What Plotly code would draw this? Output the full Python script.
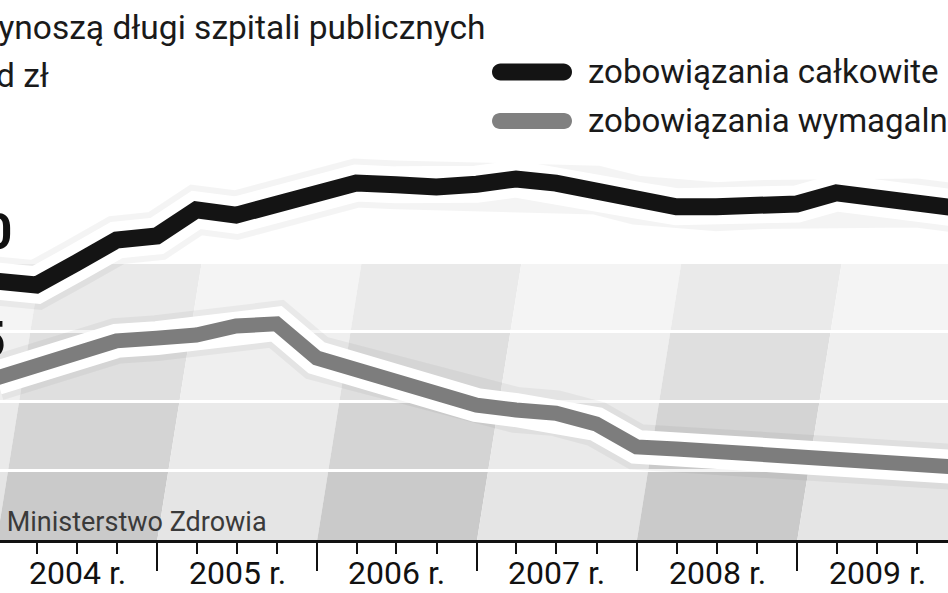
import plotly.graph_objects as go
import pandas as pd

# ---------------- data ----------------
quarter_ends = [
    "2003-12-31",
    "2004-03-31", "2004-06-30", "2004-09-30", "2004-12-31",
    "2005-03-31", "2005-06-30", "2005-09-30", "2005-12-31",
    "2006-03-31", "2006-06-30", "2006-09-30", "2006-12-31",
    "2007-03-31", "2007-06-30", "2007-09-30", "2007-12-31",
    "2008-03-31", "2008-06-30", "2008-09-30", "2008-12-31",
    "2009-03-31", "2009-06-30", "2009-09-30", "2009-12-31",
]
# zobowiązania całkowite (mld zł)
total_liabilities = [7.45, 7.34, 7.97, 8.63, 8.75, 9.50, 9.35, 9.67, 9.96,
                     10.27, 10.22, 10.16, 10.24, 10.39, 10.27, 10.07, 9.78,
                     9.59, 9.59, 9.65, 9.67, 9.99, 9.86, 9.70, 9.55]
# zobowiązania wymagalne (mld zł)
due_liabilities = [4.66, 5.01, 5.47, 5.73, 5.81, 5.90, 6.16, 6.22, 5.24,
                   4.89, 4.55, 4.29, 3.88, 3.74, 3.65, 3.34, 2.68,
                   2.62, 2.56, 2.45, 2.36, 2.39, 2.33, 2.27, 2.10]
label_years = [2004, 2005, 2006, 2007, 2008, 2009]
year_labels = ["2004 r.", "2005 r.", "2006 r.", "2007 r.", "2008 r.", "2009 r."]
band_years = [2003, 2004, 2005, 2006, 2007, 2008, 2009, 2010]
grid_levels = [0, 2, 4, 6, 8]

series_names = ["zobowiązania całkowite", "zobowiązania wymagalne"]
title_lines = ["Ile wynoszą długi szpitali publicznych", "w mld zł"]
source_text = "Źródło: Ministerstwo Zdrowia"
side_labels = ["10", "5"]

# ---------------- layout constants ----------------
W, H = 948, 593
PLOT_H = 540
Y_MAX = 15.54
FONT = "Roboto, Liberation Sans, sans-serif"

def px_x(p):
    return p / W

def px_y(p):
    return (PLOT_H - p) / PLOT_H

fig = go.Figure()

# line traces: soft shadow, white outline, colour
styles = [
    (due_liabilities, "#7d7d7d", 15, 34),
    (total_liabilities, "#141414", 17, 37),
]
for vals, col, w, ow in styles:
    fig.add_trace(go.Scatter(x=quarter_ends, y=vals, mode="lines",
                             line=dict(color="rgba(0,0,0,0.045)", width=ow + 12),
                             hoverinfo="skip", showlegend=False))
    fig.add_trace(go.Scatter(x=quarter_ends, y=vals, mode="lines",
                             line=dict(color="white", width=ow),
                             hoverinfo="skip", showlegend=False))
for (vals, col, w, ow), name in zip(styles, series_names[::-1]):
    fig.add_trace(go.Scatter(x=quarter_ends, y=vals, mode="lines", name=name,
                             line=dict(color=col, width=w),
                             showlegend=False))

# ---------------- background bands (slanted, blocky shading) ----------------
dark = ["#cacaca", "#d4d4d4", "#dfdfdf", "#eaeaea"]
light = ["#e5e5e5", "#eaeaea", "#efefef", "#f4f4f4"]
slant_days = 12.7  # per unit of y

def dstr(ts):
    return ts.strftime("%Y-%m-%d_%H:%M:%S")

shapes = []
for yr in band_years:
    s = pd.Timestamp(f"{yr}-01-01")
    e = pd.Timestamp(f"{yr + 1}-01-01")
    cols = dark if yr % 2 == 0 else light
    for j in range(len(grid_levels) - 1):
        v0, v1 = grid_levels[j], grid_levels[j + 1]
        o0 = pd.Timedelta(days=slant_days * v0)
        o1 = pd.Timedelta(days=slant_days * v1)
        path = (f"M{dstr(s + o0)},{v0} L{dstr(e + o0)},{v0} "
                f"L{dstr(e + o1)},{v1} L{dstr(s + o1)},{v1} Z")
        shapes.append(dict(type="path", xref="x", yref="y", path=path,
                           fillcolor=cols[j], line=dict(width=0), layer="below"))

# legend swatches (pill shapes, pixel-sized)
def pill(w=80, h=17):
    r = h / 2
    a = w / 2 - r
    k = 0.5523
    return (f"M{-a},{-r} L{a},{-r} "
            f"C{a + k * r},{-r} {a + r},{-k * r} {a + r},0 "
            f"C{a + r},{k * r} {a + k * r},{r} {a},{r} "
            f"L{-a},{r} "
            f"C{-a - k * r},{r} {-a - r},{k * r} {-a - r},0 "
            f"C{-a - r},{-k * r} {-a - k * r},{-r} {-a},{-r} Z")

legend_rows = [(72, "#141414", 17), (121, "#808080", 16)]
for ypx, col, h in legend_rows:
    shapes.append(dict(type="path", xref="paper", yref="paper",
                       xsizemode="pixel", ysizemode="pixel",
                       xanchor=px_x(532), yanchor=px_y(ypx),
                       path=pill(80, h), fillcolor=col, line=dict(width=0),
                       layer="above"))

annotations = []
TXT = "#1a1a1a"
# title
annotations.append(dict(text=title_lines[0], xref="paper", yref="paper",
                        x=px_x(487), y=px_y(28), xanchor="right", yanchor="middle",
                        showarrow=False, font=dict(family=FONT, size=33.5, color=TXT)))
annotations.append(dict(text=title_lines[1], xref="paper", yref="paper",
                        x=px_x(51), y=px_y(76), xanchor="right", yanchor="middle",
                        showarrow=False, font=dict(family=FONT, size=33.5, color=TXT)))
# legend texts
for (ypx, col, h), name in zip(legend_rows, series_names):
    annotations.append(dict(text=name, xref="paper", yref="paper",
                            x=px_x(586), y=px_y(ypx - 1), xanchor="left", yanchor="middle",
                            showarrow=False, font=dict(family=FONT, size=33, color=TXT)))
# side labels
for (xr, ypx), lab in zip([(14, 232), (8, 340)], side_labels):
    annotations.append(dict(text=f"<b>{lab}</b>", xref="paper", yref="paper",
                            x=px_x(xr), y=px_y(ypx), xanchor="right", yanchor="middle",
                            showarrow=False, font=dict(family=FONT, size=50, color="#111111")))
# source
annotations.append(dict(text=source_text, xref="paper", yref="paper",
                        x=px_x(269), y=px_y(522), xanchor="right", yanchor="middle",
                        showarrow=False, font=dict(family=FONT, size=27, color="#3a3a3a")))
# year labels centred in each year
for yr, lab in zip(label_years, year_labels):
    annotations.append(dict(text=lab, xref="x", yref="paper",
                            x=f"{yr}-07-02", y=px_y(573), xanchor="center", yanchor="middle",
                            showarrow=False, font=dict(family=FONT, size=32, color="#111111")))

fig.update_layout(
    width=W, height=H,
    margin=dict(l=0, r=0, t=0, b=H - PLOT_H, pad=0),
    paper_bgcolor="white", plot_bgcolor="white",
    shapes=shapes, annotations=annotations,
    showlegend=False,
    xaxis=dict(
        type="date", range=["2004-01-08", "2009-12-11"],
        tick0="2004-01-01", dtick="M12", showticklabels=False,
        ticks="outside", ticklen=28, tickwidth=2,
        tickcolor="#111111", showgrid=False, zeroline=False,
        showline=True, linecolor="#111111", linewidth=3,
        minor=dict(dtick="M3", ticks="outside", ticklen=11, tickwidth=2,
                   tickcolor="#111111", showgrid=False),
    ),
    yaxis=dict(
        range=[0, Y_MAX], tick0=0, dtick=2, showticklabels=False,
        showgrid=True, gridcolor="white", gridwidth=3, zeroline=False,
        ticks="",
    ),
)

fig.write_html(
    "out.html",
    config={"displayModeBar": False},
    post_script="document.body.style.margin='0px';document.body.style.overflow='hidden';",
)
